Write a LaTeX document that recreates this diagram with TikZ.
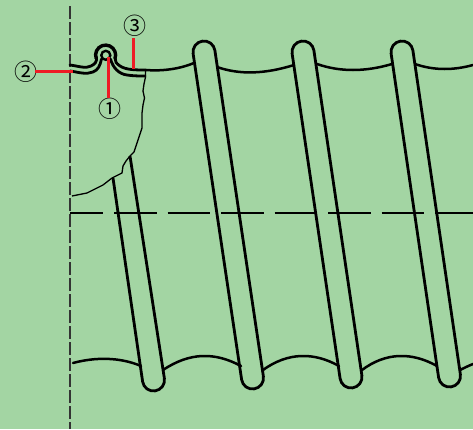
\documentclass[tikz,border=0pt]{standalone}
\usetikzlibrary{calc}
\usepackage{fontspec}
\newfontfamily\symfont{Noto Sans CJK JP}
\definecolor{bgc}{HTML}{A3D5A3}
\definecolor{leader}{HTML}{EE1C25}
\definecolor{axisc}{HTML}{333333}
\tikzset{
  tube/.style={draw=black,line width=2.8pt,line join=round},
  wave/.style={draw=black,line width=2.5pt,line cap=round},
  seam/.style={draw=black,line width=2.8pt,line cap=round},
  ring/.style={draw=black,line width=3.4pt,line cap=round},
  eyelet/.style={draw=black,line width=2.4pt},
  tear/.style={draw=black,line width=1.3pt,line join=round},
  leadv/.style={draw=leader,line width=3pt},
  leadh/.style={draw=leader,line width=2.3pt},
  axisv/.style={draw=axisc,line width=2pt,dash pattern=on 13pt off 3pt},
  axish/.style={draw=black,line width=1.1pt,dash pattern=on 42.5pt off 11pt,dash phase=9.5pt},
  num/.style={font=\symfont\fontsize{23}{23}\selectfont,inner sep=0pt,text=black}
}
\begin{document}
\begin{tikzpicture}[x=1pt,y=-1pt]
\useasboundingbox (0,0) rectangle (473,429);
\fill[bgc] (0,0) rectangle (473,429);
% axes
\draw[axisv] (70,6) -- (70,429);
\draw[axish] (70,213) -- (473,213);
% tubes
\foreach \tx/\bx/\by in {204/252.5/378,303/351/377,402/449.5/376}{
  \draw[tube] ($(\bx,\by)+(171.6:11)$) -- ($(\tx,52)+(171.6:11)$) arc[start angle=171.6,end angle=351.6,radius=11] -- ($(\bx,\by)+(-8.4:11)$) arc[start angle=-8.4,end angle=171.6,radius=11] -- cycle;
}
\draw[tube] (113,178) -- ($(153.5,380)+(171.6:11)$) arc[start angle=171.6,end angle=-8.4,radius=11] -- (130,156);
% top waves
\draw[wave] (146,70) .. controls (165,71.5) and (182,68) .. (194,63);
\draw[wave] (217,67) .. controls (240,75) and (265,74) .. (294,65);
\draw[wave] (317,64) .. controls (340,72) and (365,72) .. (392,64);
\draw[wave] (415,64) .. controls (435,71) and (455,70) .. (473,65);
% bottom waves
\draw[wave] (73,363) .. controls (95,357) and (120,357) .. (141,366);
\draw[wave] (163,370) .. controls (190,352) and (215,352) .. (241,366);
\draw[wave] (263,370) .. controls (288,352) and (314,352) .. (339,366);
\draw[wave] (362,370) .. controls (386,352) and (412,352) .. (437,366);
\draw[wave] (460,370) .. controls (464,368) and (468,366) .. (473,364);
% seam with loop
\draw[seam] (70,65) .. controls (78,66) and (86,69) .. (91,66) .. controls (95,64) and (97,62) .. (96.5,57);
\draw[ring] (96.2,58.5) arc[start angle=160,end angle=380,radius=10];
\draw[seam] (115.2,58.5) .. controls (115,62) and (116,63) .. (120,66) .. controls (126,70) and (136,70) .. (146,70);
\draw[seam] (70,71) .. controls (78,72) and (86,75) .. (93,72) .. controls (98,70) and (100,66) .. (101.5,59);
\draw[seam] (110.5,59) .. controls (113,68) and (119,74) .. (127,75) .. controls (133,76) and (140,76) .. (145,76);
\draw[eyelet] (105.8,55.3) circle[radius=4.5];
% tear line
\draw[tear] (145.5,70) -- (145.5,77) -- (144,84) -- (143,91) -- (144.5,98) -- (143,105) -- (142,113) -- (142,128) -- (137,143) -- (134,152) -- (130,156) -- (126,161) -- (123,166) -- (122,173) -- (112,178) -- (103,185) -- (87,193) -- (72,196);
% labels and leaders
\node[num] (n1) at (110,109) {①};
\node[num] (n2) at (25.5,71.5) {②};
\node[num] (n3) at (135,26) {③};
\coordinate (e1) at (108,57);
\coordinate (e2) at (73,71.5);
\coordinate (e3) at (133,69);
\draw[leadv] (e1) -- (108,98);
\draw[leadh] (35,71.5) -- (e2);
\draw[leadv] (133,38) -- (e3);
\end{tikzpicture}
\end{document}
